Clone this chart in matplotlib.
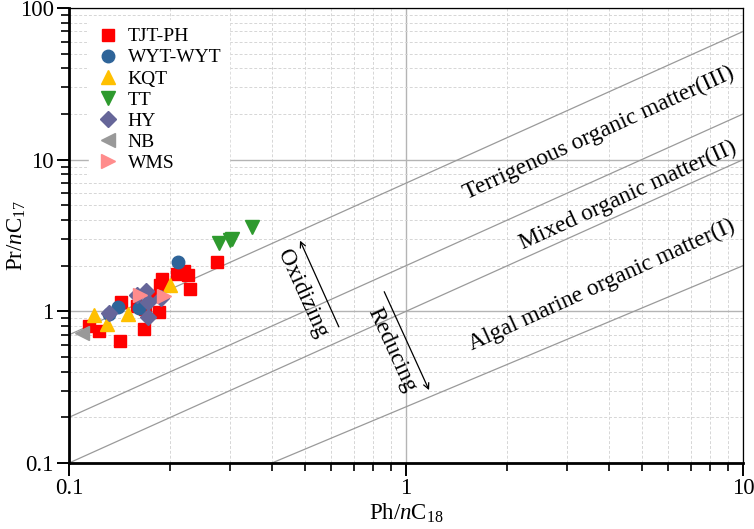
import numpy as np
import matplotlib
matplotlib.use("Agg")
import matplotlib.pyplot as plt
from matplotlib.ticker import LogLocator, NullFormatter, FixedFormatter, FixedLocator

plt.rcParams['font.family'] = ['Liberation Serif', 'DejaVu Serif']
plt.rcParams['mathtext.fontset'] = 'custom'
plt.rcParams['mathtext.rm'] = 'Liberation Serif'
plt.rcParams['mathtext.it'] = 'Liberation Serif:italic'

# datos (Ph/nC18, Pr/nC17)
tjt_x = [0.275, 0.209, 0.219, 0.226, 0.228, 0.189, 0.186, 0.143, 0.159, 0.168, 0.185, 0.115, 0.123, 0.142, 0.167, 0.179]
tjt_y = [2.10, 1.76, 1.85, 1.73, 1.41, 1.63, 1.49, 1.15, 1.08, 1.03, 0.99, 0.80, 0.74, 0.64, 0.76, 1.27]
wyt_x = [0.210, 0.161, 0.140, 0.131]
wyt_y = [2.12, 1.05, 1.06, 0.955]
kqt_x = [0.199, 0.150, 0.119, 0.130]
kqt_y = [1.49, 0.955, 0.94, 0.83]
tt_x = [0.350, 0.300, 0.279, 0.305]
tt_y = [3.58, 2.97, 2.81, 3.00]
hy_x = [0.169, 0.159, 0.188, 0.171, 0.172, 0.131]
hy_y = [1.36, 1.29, 1.23, 1.16, 0.92, 0.98]
nb_x = [0.109]
nb_y = [0.72]
wms_x = [0.162, 0.191]
wms_y = [1.29, 1.27]

# lineas de clasificacion (extremos)
lineas = [([0.1, 10], [0.7, 70]),
          ([0.1, 10], [0.2, 20]),
          ([0.1, 10], [0.1, 10]),
          ([0.4, 10], [0.1, 2.0])]

fig = plt.figure(figsize=(7.54, 5.29), dpi=100)
ax = fig.add_axes([69/754, 1-463/529, (743-69)/754, (463-8)/529])
ax.set_xscale('log')
ax.set_yscale('log')
ax.set_xlim(0.1, 10)
ax.set_ylim(0.1, 100)

ax.grid(True, which='major', color='#b4b4b4', lw=1.0, ls='-')
ax.grid(True, which='minor', color='#d6d6d6', lw=0.7, ls=(0, (3, 2)))
ax.set_axisbelow(True)

for lx, ly in lineas:
    ax.plot(lx, ly, color='#9a9a9a', lw=0.9, zorder=2)

ms = 9
ax.plot(tjt_x, tjt_y, 's', color='#ff0000', ms=ms-1, ls='none', label='TJT-PH', zorder=3)
ax.plot(wyt_x, wyt_y, 'o', color='#2e6499', ms=ms, ls='none', label='WYT-WYT', zorder=3)
ax.plot(kqt_x, kqt_y, '^', color='#ffc000', ms=ms+1, ls='none', label='KQT', zorder=3)
ax.plot(tt_x, tt_y, 'v', color='#2e9a2e', ms=ms+1, ls='none', label='TT', zorder=3)
ax.plot(hy_x, hy_y, 'D', color='#666699', ms=ms-1, ls='none', label='HY', zorder=3)
ax.plot(nb_x, nb_y, '<', color='#999999', ms=ms+1, ls='none', label='NB', zorder=3)
ax.plot(wms_x, wms_y, '>', color='#ff8c8c', ms=ms+1, ls='none', label='WMS', zorder=3)

leg = ax.legend(loc='upper left', bbox_to_anchor=(0.015, 0.995), frameon=True, fontsize=14,
                handletextpad=0.4, labelspacing=0.18, borderpad=0.4, handlelength=1.2)
leg.get_frame().set_facecolor('white')
leg.get_frame().set_edgecolor('white')
leg.get_frame().set_alpha(1)

# textos de las zonas
rot = 24.5
fz = 17
ax.text(3.74, 14.9, 'Terrigenous organic matter(III)', rotation=rot, fontsize=fz,
        ha='center', va='center', rotation_mode='anchor')
ax.text(4.56, 5.78, 'Mixed organic matter(II)', rotation=rot, fontsize=fz,
        ha='center', va='center', rotation_mode='anchor')
ax.text(3.82, 1.49, 'Algal marine organic matter(I)', rotation=rot, fontsize=fz,
        ha='center', va='center', rotation_mode='anchor')

ax.annotate('', xy=(0.481, 3.04), xytext=(0.637, 0.76),
            arrowprops=dict(arrowstyle='->', color='black', lw=0.9))
ax.text(0.491, 1.30, 'Oxidizing', rotation=-65.5, fontsize=fz,
        ha='center', va='center', rotation_mode='anchor')
ax.annotate('', xy=(1.18, 0.291), xytext=(0.855, 1.40),
            arrowprops=dict(arrowstyle='->', color='black', lw=0.9))
ax.text(0.909, 0.560, 'Reducing', rotation=-65.5, fontsize=fz,
        ha='center', va='center', rotation_mode='anchor')

# ejes
ax.xaxis.set_major_locator(FixedLocator([0.1, 1, 10]))
ax.xaxis.set_major_formatter(FixedFormatter(['0.1', '1', '10']))
ax.yaxis.set_major_locator(FixedLocator([0.1, 1, 10, 100]))
ax.yaxis.set_major_formatter(FixedFormatter(['0.1', '1', '10', '100']))
ax.xaxis.set_minor_locator(LogLocator(base=10, subs=np.arange(2, 10)))
ax.yaxis.set_minor_locator(LogLocator(base=10, subs=np.arange(2, 10)))
ax.xaxis.set_minor_formatter(NullFormatter())
ax.yaxis.set_minor_formatter(NullFormatter())
ax.tick_params(which='major', direction='out', length=9, width=1.4, labelsize=16.5, pad=2)
ax.tick_params(which='minor', direction='out', length=5.5, width=1.2)
ax.tick_params(top=False, right=False)

for s in ['left', 'bottom']:
    ax.spines[s].set_linewidth(2.0)
for s in ['top', 'right']:
    ax.spines[s].set_linewidth(0.9)

ax.set_xlabel(r'Ph/$\mathit{n}$C$_{18}$', fontsize=16.5, va='center')
ax.set_ylabel(r'Pr/$\mathit{n}$C$_{17}$', fontsize=16.5, va='center')
ax.xaxis.set_label_coords(0.5, (463-513)/455)
ax.yaxis.set_label_coords((17-69)/674, 0.5)

fig.savefig('out.png', dpi=100)
